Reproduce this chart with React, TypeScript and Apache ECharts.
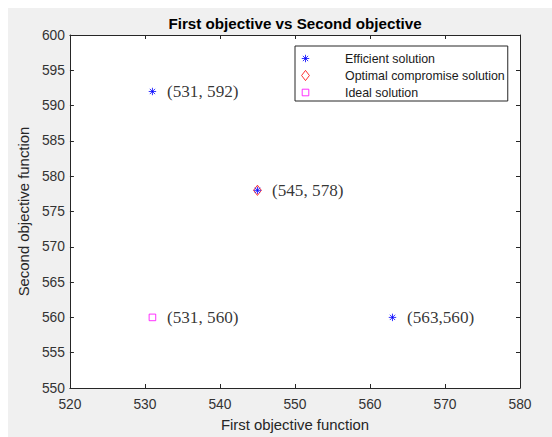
import React, { useEffect, useRef } from "react";
import * as echarts from "echarts";

// ---- data ----
const xMin = 520;
const xMax = 580;
const xInterval = 10;
const yMin = 550;
const yMax = 600;
const yInterval = 5;

const efficientX = [531, 545, 563];
const efficientY = [592, 578, 560];
const optimalX = [545];
const optimalY = [578];
const idealX = [531];
const idealY = [560];

const annotationX = [531, 545, 531, 563];
const annotationY = [592, 578, 560, 560];
const annotationText = ["(531, 592)", "(545, 578)", "(531, 560)", "(563,560)"];

const seriesNames = ["Efficient solution", "Optimal compromise solution", "Ideal solution"];

const titleText = "First objective vs Second objective";
const xName = "First objective function";
const yName = "Second objective function";

// ---- symbols (with invisible bounding points so all share a 2x2 box) ----
const asteriskSym =
  "path://M-1,-1 M1,1 M0,-0.62 L0,0.62 M-0.62,0 L0.62,0 M-0.44,-0.44 L0.44,0.44 M-0.44,0.44 L0.44,-0.44";
const diamondSym = "path://M-1,-1 M1,1 M0,-0.85 L0.65,0 L0,0.85 L-0.65,0 Z";
const squareSym = "path://M-1,-1 M1,1 M-0.55,-0.55 L0.55,-0.55 L0.55,0.55 L-0.55,0.55 Z";

const zip = (xs: number[], ys: number[]) => xs.map((x, i) => [x, ys[i]]);

const axisColor = "#262626";
const sans = "Liberation Sans";
const serif = "Liberation Serif";

export default function App() {
  const ref = useRef<HTMLDivElement>(null);

  useEffect(() => {
    if (!ref.current) return;
    const chart = echarts.init(ref.current, undefined, { renderer: "svg" });

    const commonX = {
      type: "value" as const,
      min: xMin,
      max: xMax,
      interval: xInterval,
      splitLine: { show: false },
      axisLine: { show: true, onZero: false, lineStyle: { color: axisColor, width: 1 } },
      axisTick: { show: true, inside: true, length: 4, lineStyle: { color: axisColor } },
    };
    const commonY = {
      type: "value" as const,
      min: yMin,
      max: yMax,
      interval: yInterval,
      splitLine: { show: false },
      axisLine: { show: true, onZero: false, lineStyle: { color: axisColor, width: 1 } },
      axisTick: { show: true, inside: true, length: 4, lineStyle: { color: axisColor } },
    };

    chart.setOption({
      animation: false,
      backgroundColor: "#f0f0f0",
      grid: {
        left: 60,
        top: 27,
        right: 32,
        bottom: 47,
        show: true,
        backgroundColor: "#ffffff",
        borderWidth: 0,
      },
      graphic: [
        {
          type: "text",
          x: 287,
          y: 15,
          style: {
            text: titleText,
            font: `bold 15.2px "${sans}"`,
            fill: "#000",
            align: "center",
            verticalAlign: "middle",
          },
        },
      ],
      legend: {
        orient: "vertical",
        left: 287,
        top: 38,
        padding: [6, 3, 2, 4],
        itemGap: 4,
        itemWidth: 41,
        itemHeight: 12,
        backgroundColor: "#ffffff",
        borderColor: axisColor,
        borderWidth: 1,
        borderRadius: 0,
        selectedMode: false,
        data: seriesNames,
        itemStyle: { borderWidth: 1 },
        textStyle: {
          fontFamily: sans,
          fontSize: 12.4,
          color: "#1a1a1a",
          lineHeight: 12,
          padding: [0, 0, 0, 14],
        },
      },
      xAxis: [
        {
          ...commonX,
          position: "bottom",
          name: xName,
          nameLocation: "middle",
          nameGap: 29,
          nameTextStyle: { fontFamily: sans, fontSize: 14.9, color: axisColor },
          axisLabel: { margin: 9, fontFamily: sans, fontSize: 13.8, color: "#333" },
        },
        { ...commonX, position: "top", axisLabel: { show: false } },
      ],
      yAxis: [
        {
          ...commonY,
          position: "left",
          name: yName,
          nameLocation: "middle",
          nameGap: 29,
          nameTextStyle: { fontFamily: sans, fontSize: 14.9, color: axisColor },
          axisLabel: { margin: 5, fontFamily: sans, fontSize: 13.8, color: "#333" },
        },
        { ...commonY, position: "right", axisLabel: { show: false } },
      ],
      series: [
        {
          name: seriesNames[1],
          type: "scatter",
          data: zip(optimalX, optimalY),
          symbol: diamondSym,
          symbolSize: 12,
          itemStyle: { color: "transparent", borderColor: "#ff0000", borderWidth: 1 },
          z: 3,
        },
        {
          name: seriesNames[0],
          type: "scatter",
          data: zip(efficientX, efficientY),
          symbol: asteriskSym,
          symbolSize: 12,
          itemStyle: { color: "transparent", borderColor: "#0000ff", borderWidth: 1 },
          z: 4,
        },
        {
          name: seriesNames[2],
          type: "scatter",
          data: zip(idealX, idealY),
          symbol: squareSym,
          symbolSize: 12,
          itemStyle: { color: "transparent", borderColor: "#ff00ff", borderWidth: 1 },
          z: 4,
        },
        {
          name: "annotations",
          type: "scatter",
          silent: true,
          data: annotationX.map((x, i) => [x, annotationY[i], annotationText[i]]),
          symbol: "circle",
          symbolSize: 1,
          itemStyle: { color: "rgba(0,0,0,0)" },
          label: {
            show: true,
            position: "right",
            distance: 14,
            formatter: (p: any) => p.value[2],
            fontFamily: serif,
            fontSize: 17.2,
            color: "#000",
          },
          z: 5,
        },
      ],
    });

    return () => {
      chart.dispose();
    };
  }, []);

  return (
    <div
      ref={ref}
      style={{ position: "fixed", left: 8, top: 8, width: 544, height: 429 }}
    />
  );
}
